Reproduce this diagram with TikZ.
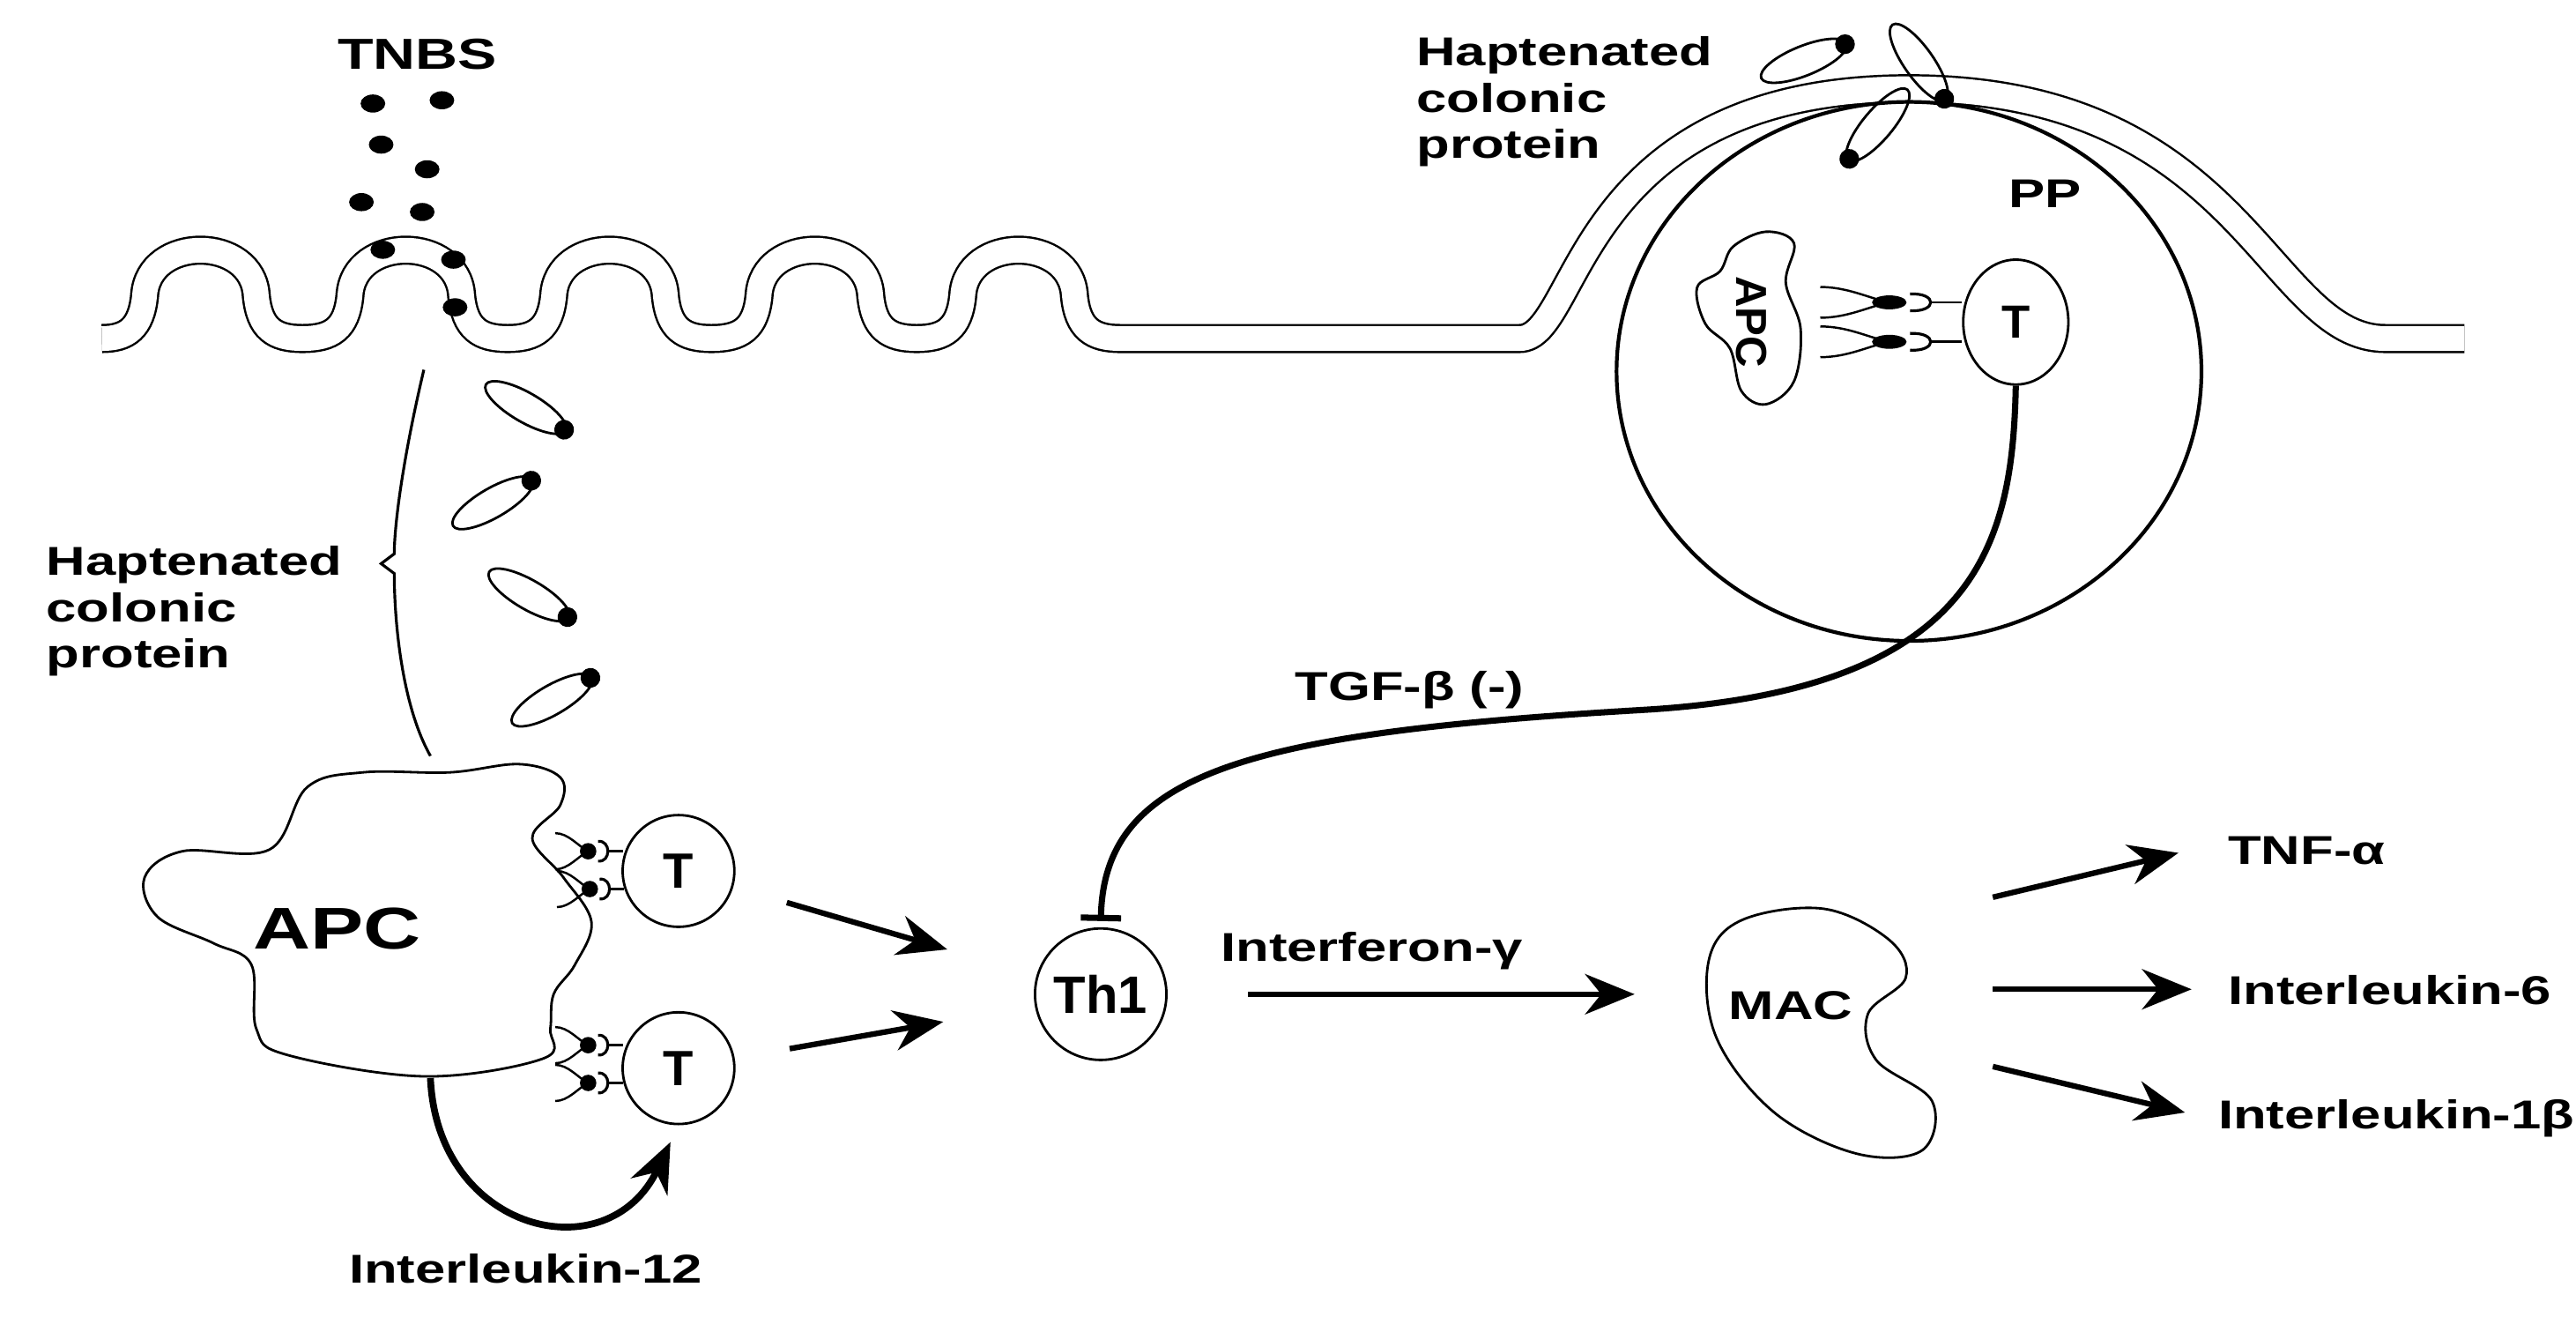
\documentclass[tikz,border=0pt]{standalone}
\usepackage{fontspec}
\setmainfont{Liberation Sans}
\usepackage{graphicx}
\usetikzlibrary{arrows.meta,shapes.geometric}
\newcommand\widetxt[1]{\scalebox{1.35}[1]{#1}}
\begin{document}
\begin{tikzpicture}[x=0.01864cm,y=-0.01864cm,
  lbl/.style={font=\bfseries\fontsize{13}{15}\selectfont, inner sep=1pt},
  cell/.style={draw, circle, line width=0.8pt, font=\bfseries\fontsize{16}{17}\selectfont, inner sep=0pt},
  arr/.style={line width=1.8pt, -{Stealth[length=16pt,width=13pt]}},
  mem/.style={double, double distance=8pt, line width=0.7pt},
  prot/.pic={\draw[line width=0.8pt] (0,0) ellipse (28 and 9); \fill (27,0) circle (6);},
  rec/.pic={\draw[line width=0.7pt] (0,-11) .. controls (8,-11) and (14,-3) .. (20,0) .. controls (14,3) and (8,11) .. (0,11); \fill (20,0) circle (5);
            \draw[line width=0.9pt] (26,-6) .. controls (34,-7) and (34,7) .. (26,6); \draw[line width=0.8pt] (32,0) -- (41,0);}
]
\useasboundingbox (0,0) rectangle (1568,801);
% membrane with villi
\draw[mem] (62,206) foreach \c in {122,247,371,496,620} { .. controls (\c-45,206) and (\c-36,200) .. (\c-34,180) .. controls (\c-32,143) and (\c+32,143) .. (\c+34,180) .. controls (\c+36,200) and (\c+45,206) .. (\c+62,206) } -- (925,206)
  .. controls (962,206) and (958,54) .. (1162,54) .. controls (1366,54) and (1380,206) .. (1452,206) -- (1500,206);
% Peyer's patch
\draw[line width=1.2pt] (1162,226) ellipse (178 and 164);
\node[lbl] (PP) at (1245,118) {\widetxt{PP}};
% TNBS
\node[lbl, font=\bfseries\fontsize{14}{16}\selectfont] (TNBS) at (254,33) {\widetxt{TNBS}};
\foreach \p in {(227,63),(269,61),(232,88),(260,103),(220,123),(257,129),(233,152),(276,158),(277,187)}
  \fill \p ellipse (7.5 and 5.5);
% proteins left
\pic[rotate=-30] at (320,248) {prot};
\pic[rotate=30] at (300,306) {prot};
\pic[rotate=-30] at (322,362) {prot};
\pic[rotate=30] at (336,426) {prot};
% proteins top right
\pic[rotate=22] at (1098,37) {prot};
\pic[rotate=-55] at (1168,38) {prot};
\pic[rotate=230] at (1143,76) {prot};
% brace
\draw[line width=0.9pt] (258,225) .. controls (245,280) and (240,320) .. (240,337) -- (232,343) -- (240,349) .. controls (240,380) and (245,430) .. (262,460);
\node[lbl, anchor=base west] (hcp1) at (26,350) {\widetxt{\begin{tabular}[t]{@{}l@{}}Haptenated\\colonic\\protein\end{tabular}}};
\node[lbl, anchor=base west] (hcp2) at (860,40) {\widetxt{\begin{tabular}[t]{@{}l@{}}Haptenated\\colonic\\protein\end{tabular}}};
% big APC
\draw[line width=0.8pt] plot[smooth cycle, tension=0.6] coordinates {(111,518) (164,517) (187,479) (221,470) (274,470) (316,465) (341,473) (341,490) (324,510) (343,534) (360,561) (350,587) (337,605) (335,626) (331,644) (259,655) (175,642) (156,626) (153,587) (130,574) (96,558) (88,534)};
\node[font=\bfseries\fontsize{19}{21}\selectfont] (APC) at (205,565) {\widetxt{APC}};
\node[cell, minimum size=68*0.01864cm] (T1) at (413,530) {T};
\node[cell, minimum size=68*0.01864cm] (T2) at (413,650) {T};
\pic at (338,518) {rec}; \pic at (339,541) {rec};
\pic at (338,636) {rec}; \pic at (338,659) {rec};
\coordinate (apcb) at (262,656);
\draw[arr, line width=2.2pt] (apcb) .. controls (266,750) and (370,775) .. (T2.south) [shorten >=6pt];
\node[lbl, anchor=base] (IL12) at (320,781) {\widetxt{Interleukin-12}};
% Th1
\node[cell, minimum size=80*0.01864cm, font=\bfseries\fontsize{17}{18}\selectfont] (Th1) at (670,605) {Th1};
\draw[arr, shorten <=18pt, shorten >=30pt] (T1) -- (Th1);
\draw[arr, shorten <=18pt, shorten >=30pt] (T2) -- (Th1);
% PP APC and T
\draw[line width=0.8pt] plot[smooth cycle, tension=0.6] coordinates {(1055,150) (1075,141) (1092,148) (1087,172) (1096,200) (1092,232) (1075,246) (1060,238) (1053,212) (1038,197) (1033,175) (1047,165)};
\node[font=\bfseries\fontsize{14}{15}\selectfont, rotate=-90] (APCpp) at (1066,196) {APC};
\node[draw, ellipse, line width=0.8pt, minimum width=64*0.01864cm, minimum height=76*0.01864cm, inner sep=0pt, font=\bfseries\fontsize{15}{16}\selectfont] (Tpp) at (1227,196) {T};
\pic[xscale=2.1, yscale=0.85] at (1108,184) {rec}; \pic[xscale=2.1, yscale=0.85] at (1108,208) {rec};
\draw[line width=2pt, -{Bar[width=13pt]}, shorten >=2pt] (Tpp.south) .. controls (1225,330) and (1205,420) .. (1000,432) .. controls (760,446) and (672,470) .. (Th1.north);
\node[lbl] (TGF) at (858,420) {\widetxt{TGF-β (-)}};
% MAC
\draw[line width=0.8pt] plot[smooth cycle, tension=0.6] coordinates {(1060,560) (1110,553) (1150,572) (1160,595) (1137,617) (1142,645) (1176,670) (1170,700) (1130,702) (1080,677) (1045,632) (1040,585)};
\node[lbl] (MAC) at (1090,612) {\widetxt{MAC}};
\coordinate (macw) at (995,605);
\draw[arr, shorten <=26pt] (Th1) -- (macw);
\node[lbl, anchor=base] (IFN) at (835,585) {\widetxt{Interferon-γ}};
\node[lbl, anchor=base west] (TNF) at (1354,526) {\widetxt{TNF-α}};
\node[lbl, anchor=base west] (IL6) at (1354,611) {\widetxt{Interleukin-6}};
\node[lbl, anchor=base west] (IL1) at (1348,687) {\widetxt{Interleukin-1β}};
\coordinate (m1) at (1213,546); \coordinate (m2) at (1213,602); \coordinate (m3) at (1213,649);
\coordinate (t1) at (1326,519); \coordinate (t2) at (1334,602); \coordinate (t3) at (1330,677);
\draw[arr] (m1) -- (t1);
\draw[arr] (m2) -- (t2);
\draw[arr] (m3) -- (t3);
\end{tikzpicture}
\end{document}
